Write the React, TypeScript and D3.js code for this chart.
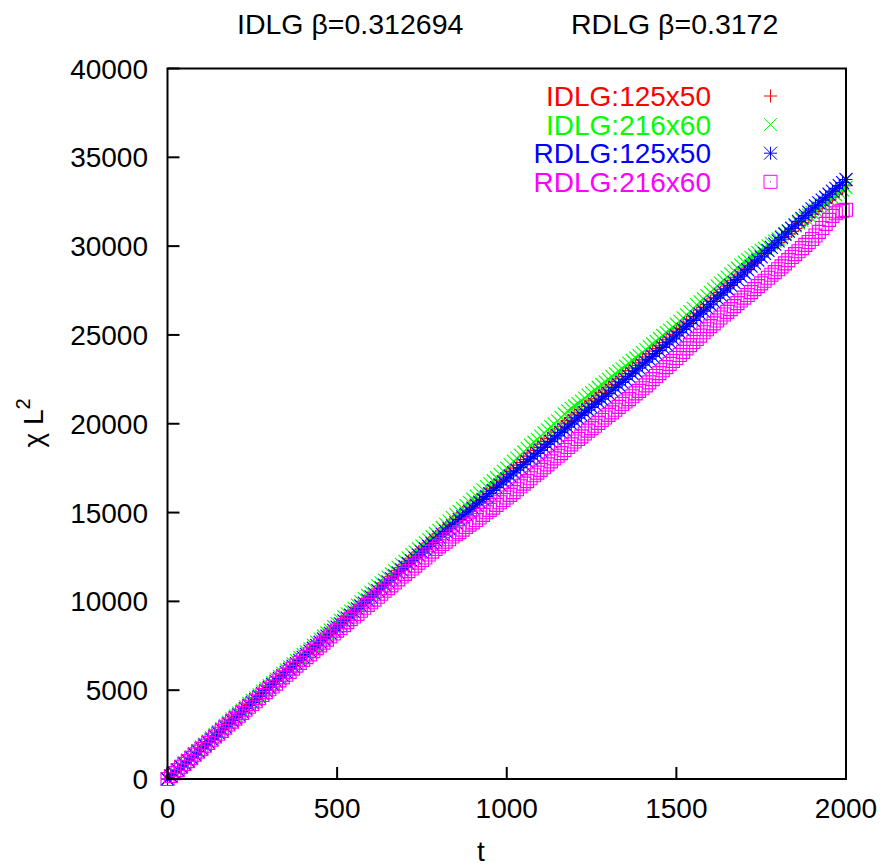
import React from "react";
import * as d3 from "d3";

// Sampling grid in t (every 10 steps)
const tValues: number[] = d3.range(0, 2001, 10);

// chi * L^2 for each lattice / sample size
const idlg125x50: number[] = [
  0, 170, 350, 530, 700, 860, 1030, 1220, 1390, 1560, 1750, 1940, 2110, 2270, 2440, 2630, 2800, 2970, 3160, 3340,
  3500, 3660, 3830, 4020, 4190, 4350, 4520, 4700, 4870, 5030, 5200, 5380, 5550, 5720, 5870, 6040, 6230, 6400, 6560, 6730,
  6910, 7090, 7250, 7410, 7590, 7770, 7960, 8130, 8290, 8460, 8650, 8820, 8980, 9150, 9340, 9510, 9660, 9830, 10020, 10190,
  10350, 10520, 10710, 10880, 11040, 11220, 11410, 11570, 11740, 11920, 12100, 12260, 12430, 12620, 12790, 12940, 13110, 13290, 13470, 13640,
  13800, 13960, 14150, 14320, 14470, 14640, 14830, 15000, 15150, 15310, 15500, 15670, 15820, 15990, 16170, 16330, 16480, 16650, 16830, 16990,
  17150, 17320, 17500, 17670, 17820, 17990, 18180, 18350, 18500, 18670, 18850, 19010, 19170, 19340, 19520, 19690, 19830, 20000, 20180, 20350,
  20500, 20640, 20800, 20970, 21130, 21290, 21420, 21580, 21750, 21910, 22050, 22200, 22370, 22530, 22660, 22820, 22990, 23140, 23280, 23430,
  23600, 23760, 23930, 24090, 24230, 24390, 24570, 24730, 24870, 25030, 25200, 25370, 25550, 25720, 25870, 26040, 26230, 26400, 26550, 26720,
  26900, 27080, 27250, 27400, 27570, 27760, 27930, 28080, 28250, 28430, 28600, 28760, 28930, 29090, 29230, 29390, 29570, 29730, 29870, 30030,
  30200, 30360, 30530, 30690, 30830, 30990, 31170, 31330, 31470, 31630, 31800, 31960, 32130, 32290, 32430, 32590, 32770, 32930, 33070, 33230,
  33400,
];

const idlg216x60: number[] = [
  0, 160, 330, 520, 710, 890, 1060, 1230, 1420, 1610, 1800, 1960, 2130, 2320, 2490, 2660, 2850, 3030, 3190, 3380,
  3550, 3710, 3880, 4060, 4250, 4420, 4570, 4740, 4930, 5100, 5250, 5430, 5620, 5780, 5950, 6140, 6310, 6480, 6660, 6840,
  7000, 7160, 7340, 7530, 7710, 7870, 8050, 8220, 8380, 8570, 8750, 8930, 9130, 9300, 9450, 9620, 9790, 9970, 10150, 10330,
  10500, 10680, 10870, 11040, 11200, 11370, 11540, 11720, 11910, 12080, 12250, 12430, 12630, 12790, 12950, 13120, 13310, 13480, 13640, 13820,
  14000, 14160, 14330, 14520, 14710, 14880, 15060, 15230, 15390, 15570, 15750, 15930, 16110, 16280, 16460, 16630, 16790, 16960, 17150, 17330,
  17500, 17700, 17890, 18060, 18230, 18410, 18610, 18790, 18960, 19120, 19300, 19480, 19660, 19830, 19980, 20160, 20360, 20550, 20720, 20870,
  21000, 21130, 21270, 21440, 21610, 21750, 21890, 22040, 22210, 22360, 22500, 22650, 22810, 22960, 23090, 23240, 23410, 23560, 23700, 23840,
  24000, 24170, 24340, 24490, 24640, 24800, 24970, 25130, 25270, 25430, 25600, 25780, 25960, 26130, 26310, 26500, 26690, 26860, 27030, 27210,
  27400, 27580, 27760, 27920, 28070, 28250, 28440, 28610, 28770, 28930, 29100, 29240, 29370, 29500, 29630, 29760, 29870, 30010, 30160, 30280,
  30400, 30550, 30710, 30850, 30990, 31140, 31310, 31460, 31590, 31740, 31900, 32030, 32170, 32320, 32470, 32600, 32730, 32880, 33030, 33170,
  33300,
];

const rdlg125x50: number[] = [
  0, 170, 340, 510, 690, 860, 1030, 1200, 1380, 1550, 1720, 1900, 2070, 2230, 2400, 2590, 2770, 2930, 3100, 3280,
  3450, 3610, 3780, 3960, 4140, 4300, 4470, 4640, 4800, 4980, 5150, 5320, 5500, 5660, 5820, 6000, 6180, 6340, 6500, 6680,
  6850, 7020, 7200, 7360, 7520, 7700, 7880, 8040, 8200, 8370, 8550, 8730, 8900, 9060, 9220, 9400, 9580, 9740, 9900, 10070,
  10250, 10420, 10600, 10760, 10920, 11100, 11280, 11440, 11600, 11770, 11950, 12120, 12280, 12440, 12600, 12770, 12950, 13100, 13260, 13430,
  13600, 13770, 13940, 14090, 14250, 14420, 14600, 14760, 14910, 15080, 15250, 15420, 15590, 15740, 15900, 16070, 16250, 16400, 16560, 16730,
  16900, 17060, 17230, 17380, 17530, 17700, 17870, 18020, 18170, 18330, 18500, 18670, 18840, 18990, 19150, 19320, 19500, 19650, 19810, 19980,
  20150, 20310, 20470, 20610, 20760, 20920, 21090, 21230, 21380, 21540, 21700, 21860, 22030, 22180, 22330, 22500, 22670, 22820, 22970, 23130,
  23300, 23470, 23640, 23790, 23950, 24120, 24300, 24450, 24610, 24780, 24950, 25130, 25310, 25470, 25640, 25820, 26010, 26170, 26340, 26520,
  26700, 26880, 27070, 27240, 27410, 27600, 27790, 27960, 28130, 28310, 28500, 28680, 28870, 29040, 29210, 29400, 29590, 29760, 29930, 30110,
  30300, 30480, 30670, 30840, 31010, 31200, 31390, 31560, 31730, 31910, 32100, 32270, 32440, 32590, 32750, 32920, 33100, 33250, 33410, 33580,
  33750,
];

const rdlg216x60: number[] = [
  0, 170, 330, 500, 690, 850, 1010, 1190, 1370, 1540, 1700, 1870, 2030, 2210, 2390, 2550, 2710, 2890, 3070, 3230,
  3400, 3560, 3720, 3900, 4070, 4220, 4380, 4560, 4730, 4890, 5050, 5210, 5370, 5550, 5720, 5870, 6030, 6210, 6380, 6540,
  6700, 6860, 7020, 7200, 7370, 7520, 7680, 7850, 8030, 8190, 8350, 8500, 8660, 8830, 9000, 9150, 9300, 9470, 9640, 9800,
  9950, 10100, 10260, 10430, 10600, 10750, 10900, 11070, 11240, 11400, 11550, 11700, 11850, 12010, 12180, 12330, 12470, 12640, 12800, 12950,
  13100, 13230, 13360, 13500, 13650, 13780, 13900, 14040, 14190, 14320, 14450, 14580, 14720, 14870, 15020, 15150, 15280, 15430, 15580, 15710,
  15850, 16000, 16150, 16310, 16480, 16630, 16770, 16930, 17100, 17250, 17400, 17550, 17710, 17880, 18050, 18200, 18350, 18520, 18690, 18840,
  19000, 19140, 19290, 19450, 19610, 19750, 19890, 20050, 20210, 20350, 20500, 20640, 20790, 20950, 21110, 21250, 21390, 21550, 21710, 21850,
  22000, 22160, 22330, 22510, 22690, 22850, 23010, 23190, 23370, 23530, 23700, 23870, 24050, 24240, 24430, 24600, 24770, 24960, 25150, 25320,
  25500, 25650, 25810, 25980, 26150, 26300, 26450, 26620, 26790, 26940, 27100, 27250, 27410, 27580, 27750, 27900, 28050, 28220, 28390, 28540,
  28700, 28860, 29030, 29210, 29390, 29550, 29710, 29890, 30070, 30230, 30400, 30600, 30800, 31020, 31250, 31480, 31700, 31850, 31950, 32000,
  32050,
];

const seriesNames: string[] = ["IDLG:125x50", "IDLG:216x60", "RDLG:125x50", "RDLG:216x60"];
const seriesColors: string[] = ["#ff0000", "#00ff00", "#0000ff", "#ff00ff"];
const seriesMarkers: string[] = ["plus", "cross", "star", "box"];
const seriesValues: number[][] = [idlg125x50, idlg216x60, rdlg125x50, rdlg216x60];

const xTicks: number[] = [0, 500, 1000, 1500, 2000];
const yTicks: number[] = [0, 5000, 10000, 15000, 20000, 25000, 30000, 35000, 40000];

const W = 884;
const H = 867;
const plot = { left: 167.5, right: 846, top: 68.5, bottom: 779 };
const FONT = "'Liberation Sans', Arial, Helvetica, sans-serif";
const S = 6.5;

function markerPath(kind: string, x: number, y: number): string {
  const p = d3.path();
  const plus = () => {
    p.moveTo(x - S, y); p.lineTo(x + S, y);
    p.moveTo(x, y - S); p.lineTo(x, y + S);
  };
  const cross = () => {
    p.moveTo(x - S, y - S); p.lineTo(x + S, y + S);
    p.moveTo(x - S, y + S); p.lineTo(x + S, y - S);
  };
  if (kind === "plus") plus();
  else if (kind === "cross") cross();
  else if (kind === "star") { plus(); cross(); }
  else {
    p.rect(x - S, y - S, 2 * S, 2 * S);
    p.moveTo(x - 0.5, y); p.lineTo(x + 0.5, y);
  }
  return p.toString();
}

export default function App() {
  const x = d3.scaleLinear().domain([0, 2000]).range([plot.left, plot.right]);
  const y = d3.scaleLinear().domain([0, 40000]).range([plot.bottom, plot.top]);

  const legendY0 = 96;
  const legendStep = 28.6;

  return (
    <svg
      width={W}
      height={H}
      viewBox={`0 0 ${W} ${H}`}
      style={{ position: "absolute", left: 0, top: 0, background: "#fff" }}
      fontFamily={FONT}
    >
      <rect x={0} y={0} width={W} height={H} fill="#fff" />

      {/* titles */}
      <text x={237} y={34} fontSize={28.5} fill="#000">IDLG β=0.312694</text>
      <text x={571} y={34} fontSize={28.5} fill="#000">RDLG β=0.3172</text>

      {/* data markers, drawn in series order */}
      {seriesValues.map((vals, si) => (
        <path
          key={seriesNames[si]}
          d={vals.map((v, i) => markerPath(seriesMarkers[si], x(tValues[i]), y(v))).join("")}
          fill="none"
          stroke={seriesColors[si]}
          strokeWidth={1.15}
        />
      ))}

      {/* frame */}
      <rect
        x={plot.left}
        y={plot.top}
        width={plot.right - plot.left}
        height={plot.bottom - plot.top}
        fill="none"
        stroke="#000"
        strokeWidth={2}
      />

      {/* y ticks */}
      {yTicks.map((v) => (
        <g key={"y" + v}>
          <line x1={plot.left} x2={plot.left + 12} y1={y(v)} y2={y(v)} stroke="#000" strokeWidth={2} />
          <text x={148} y={y(v) + 10} fontSize={28} textAnchor="end" fill="#000">{v}</text>
        </g>
      ))}

      {/* x ticks */}
      {xTicks.map((v) => (
        <g key={"x" + v}>
          <line x1={x(v)} x2={x(v)} y1={plot.bottom} y2={plot.bottom - 12} stroke="#000" strokeWidth={2} />
          <text x={x(v)} y={818} fontSize={28} textAnchor="middle" fill="#000">{v}</text>
        </g>
      ))}

      {/* axis labels */}
      <text x={481} y={861} fontSize={28} textAnchor="middle" fill="#000">t</text>
      <text transform="translate(43,423) rotate(-90)" fontSize={28} textAnchor="middle" fill="#000">
        χ L<tspan dy={-13} fontSize={20}>2</tspan>
      </text>

      {/* legend */}
      {seriesNames.map((name, i) => (
        <g key={"lg" + name}>
          <text x={711} y={legendY0 + i * legendStep + 10} fontSize={28} textAnchor="end" fill={seriesColors[i]}>
            {name}
          </text>
          <path
            d={markerPath(seriesMarkers[i], 770.5, legendY0 + i * legendStep)}
            fill="none"
            stroke={seriesColors[i]}
            strokeWidth={1}
          />
        </g>
      ))}
    </svg>
  );
}
